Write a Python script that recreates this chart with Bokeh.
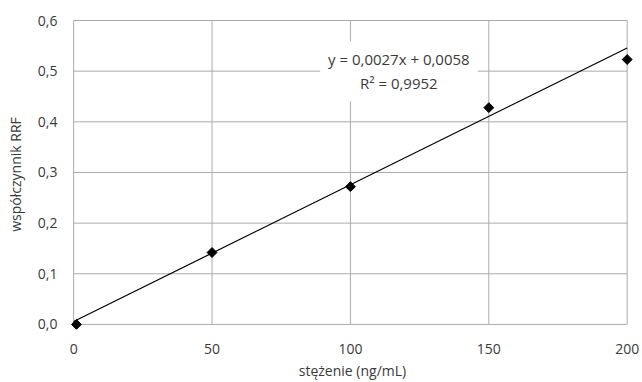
import math
from bokeh.plotting import figure
from bokeh.models import Range1d, CustomJSTickFormatter, FixedTicker, Label, ColumnDataSource
from bokeh.embed import file_html
from bokeh.resources import INLINE

# data
conc = [1, 50, 100, 150, 200]
rrf = [0.0, 0.142, 0.272, 0.428, 0.523]
slope = 0.0027
intercept = 0.0058
fit_x = [0, 200]
eq_text = "y = 0,0027x + 0,0058\nR\u00b2 = 0,9952"
x_ticks = [0, 50, 100, 150, 200]
y_ticks = [0.0, 0.1, 0.2, 0.3, 0.4, 0.5, 0.6]

FONT = "Open Sans"
TXT = "#3a3a3a"
GRID = "#ababab"

x_lo, x_hi = x_ticks[0], x_ticks[-1]
y_lo, y_hi = y_ticks[0], y_ticks[-1]

# ranges padded slightly so end markers are not clipped
p = figure(width=642, height=382, output_backend="svg", toolbar_location=None,
           x_range=Range1d(-1.5, 203), y_range=Range1d(-0.01, 0.602))
p.min_border_left = 69
p.min_border_right = 7
p.min_border_top = 19
p.min_border_bottom = 53
p.outline_line_color = None
p.background_fill_color = "white"
p.border_fill_color = "white"

p.xaxis.ticker = FixedTicker(ticks=x_ticks)
p.yaxis.ticker = FixedTicker(ticks=y_ticks)
p.yaxis.formatter = CustomJSTickFormatter(code="return tick.toFixed(1).replace('.', ',');")
p.xaxis.formatter = CustomJSTickFormatter(code="return tick.toFixed(0);")

for ax in (p.xaxis[0], p.yaxis[0]):
    ax.axis_line_color = None
    ax.major_tick_line_color = None
    ax.minor_tick_line_color = None
    ax.major_label_text_font = FONT
    ax.major_label_text_font_size = "14px"
    ax.major_label_text_color = TXT
    ax.axis_label_text_font = FONT
    ax.axis_label_text_font_size = "14px"
    ax.axis_label_text_font_style = "normal"
    ax.axis_label_text_color = TXT

p.xaxis.major_label_standoff = 8
p.yaxis.major_label_standoff = 6
p.xaxis.axis_label = "stężenie (ng/mL)"
p.yaxis.axis_label = "współczynnik RRF"
p.xaxis.axis_label_standoff = 4
p.yaxis.axis_label_standoff = 10

p.xgrid.grid_line_color = None
p.ygrid.grid_line_color = None

# bounded grid lines (the lines at 0 act as axis lines)
p.segment(x0=x_ticks, x1=x_ticks, y0=[y_lo] * len(x_ticks), y1=[y_hi] * len(x_ticks),
          line_color=GRID, line_width=1)
p.segment(x0=[x_lo] * len(y_ticks), x1=[x_hi] * len(y_ticks), y0=y_ticks, y1=y_ticks,
          line_color=GRID, line_width=1)

fit_y = [slope * x + intercept for x in fit_x]
p.line(fit_x, fit_y, line_color="black", line_width=1.2)

src = ColumnDataSource(dict(x=conc, y=rrf))
p.scatter("x", "y", source=src, marker="square", size=7, angle=math.pi / 4,
          fill_color="black", line_color="black")

lbl = Label(x=117.5, y=0.5, text=eq_text, text_align="center", text_baseline="middle",
            text_font=FONT, text_font_size="15px", text_color=TXT,
            background_fill_color="white", padding=8)
p.add_layout(lbl)

open("out.html", "w").write(file_html(p, INLINE))
